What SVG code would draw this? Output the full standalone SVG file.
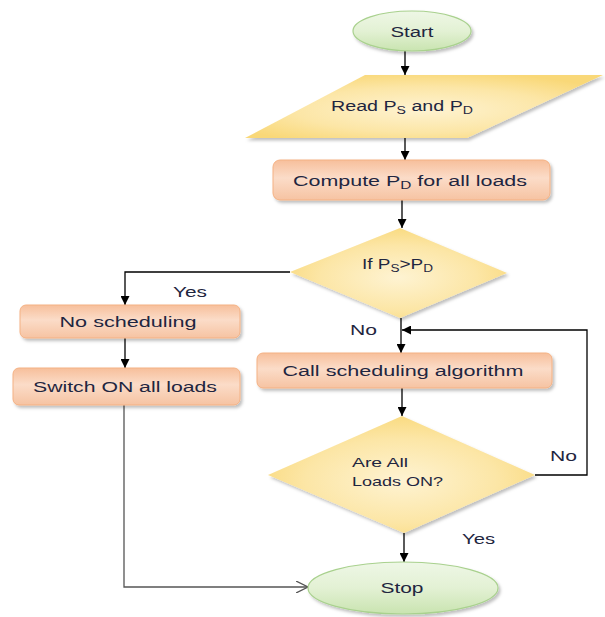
<svg xmlns="http://www.w3.org/2000/svg" width="605" height="617" viewBox="0 0 605 617">
<style>
  text { font-family: "Liberation Sans", Arial, sans-serif; font-size: 14px; fill: #1f2640; }
  .c { text-anchor: middle; }
  .sub { font-size: 10px; }
  .ln { fill: none; stroke: #000; stroke-width: 1.3; }
  .gl { fill: none; stroke: #555; stroke-width: 1.3; }
  .term { fill: url(#gGreen); stroke: #a9d18e; stroke-width: 1.2; filter: url(#sh); }
  .dec { fill: url(#gYellow); stroke: none; filter: url(#sh); }
  .proc { fill: url(#gOrange); stroke: #f4b183; stroke-width: 1; filter: url(#sh); }
</style>
<defs>
  <linearGradient id="gGreen" x1="0" y1="0" x2="0" y2="1">
    <stop offset="0" stop-color="#eef7e6"/>
    <stop offset="0.5" stop-color="#e3f1d4"/>
    <stop offset="1" stop-color="#c9e4b0"/>
  </linearGradient>
  <radialGradient id="gYellow" cx="0.5" cy="0.55" r="0.6">
    <stop offset="0" stop-color="#fef3d2"/>
    <stop offset="0.6" stop-color="#fce6a6"/>
    <stop offset="1" stop-color="#f9d878"/>
  </radialGradient>
  <linearGradient id="gOrange" x1="0" y1="0" x2="0" y2="1">
    <stop offset="0" stop-color="#f7bf9b"/>
    <stop offset="0.45" stop-color="#fbdcc8"/>
    <stop offset="1" stop-color="#f6c3a2"/>
  </linearGradient>
  <filter id="sh" x="-10%" y="-20%" width="125%" height="150%">
    <feDropShadow dx="2" dy="2.5" stdDeviation="1.5" flood-color="#000" flood-opacity="0.25"/>
  </filter>
  <marker id="ah" markerUnits="userSpaceOnUse" markerWidth="9" markerHeight="9" refX="10" refY="5" viewBox="0 0 10 10" orient="auto">
    <path d="M0,0 L10,5 L0,10 z" fill="#000"/>
  </marker>
  <marker id="ao" markerUnits="userSpaceOnUse" markerWidth="12" markerHeight="12" refX="10" refY="5" viewBox="0 0 10 10" orient="auto">
    <path d="M0,0 L10,5 L0,10" fill="none" stroke="#555" stroke-width="1.1"/>
  </marker>
</defs>

<g id="connectors">
  <path class="ln" d="M405,51 V75" marker-end="url(#ah)"/>
  <path class="ln" d="M405,138 V160" marker-end="url(#ah)"/>
  <path class="ln" d="M402,200 V228" marker-end="url(#ah)"/>
  <path class="ln" d="M290,272 H125 V305" marker-end="url(#ah)"/>
  <path class="ln" d="M125,338 V368" marker-end="url(#ah)"/>
  <path class="gl" d="M124,405 V587 H308" marker-end="url(#ao)"/>
  <path class="ln" d="M401,318 V353" marker-end="url(#ah)"/>
  <path class="ln" d="M402,388 V416" marker-end="url(#ah)"/>
  <path class="ln" d="M535,475 H587 V330 H402" marker-end="url(#ah)"/>
  <path class="ln" d="M404,533 V562" marker-end="url(#ah)"/>
</g>

<g id="start">
  <ellipse class="term" cx="412" cy="31" rx="59" ry="20"/>
  <text class="c" x="412" y="37" textLength="43" lengthAdjust="spacingAndGlyphs">Start</text>
</g>

<g id="read">
  <polygon class="dec" points="365,75 603,75 467,138 245,138"/>
  <text x="331" y="111" textLength="142" lengthAdjust="spacingAndGlyphs">Read P<tspan class="sub" dy="3">S</tspan><tspan dy="-3"> and P</tspan><tspan class="sub" dy="3">D</tspan></text>
</g>

<g id="compute">
  <rect class="proc" x="273" y="160" width="277" height="40" rx="7"/>
  <text x="293" y="186" textLength="234" lengthAdjust="spacingAndGlyphs">Compute P<tspan class="sub" dy="3">D</tspan><tspan dy="-3"> for all loads</tspan></text>
</g>

<g id="decision1">
  <polygon class="dec" points="400,228 507,273 400,318 290,272"/>
  <text x="362" y="269" textLength="71" lengthAdjust="spacingAndGlyphs">If P<tspan class="sub" dy="3">S</tspan><tspan dy="-3">&gt;P</tspan><tspan class="sub" dy="3">D</tspan></text>
</g>

<g id="noSched">
  <rect class="proc" x="20" y="305" width="220" height="33" rx="6"/>
  <text class="c" x="128" y="327" textLength="137" lengthAdjust="spacingAndGlyphs">No scheduling</text>
</g>

<g id="switchOn">
  <rect class="proc" x="13" y="368" width="227" height="37" rx="6"/>
  <text class="c" x="125" y="392" textLength="184" lengthAdjust="spacingAndGlyphs">Switch ON all loads</text>
</g>

<g id="callSched">
  <rect class="proc" x="257" y="353" width="295" height="35" rx="6"/>
  <text class="c" x="403" y="376" textLength="241" lengthAdjust="spacingAndGlyphs">Call scheduling algorithm</text>
</g>

<g id="decision2">
  <polygon class="dec" points="402,416 535,475 404,533 268,475"/>
  <text x="352" y="467" textLength="56" lengthAdjust="spacingAndGlyphs" style="font-size:13px">Are All</text>
  <text x="352" y="486" textLength="91" lengthAdjust="spacingAndGlyphs" style="font-size:13px">Loads ON?</text>
</g>

<g id="stop">
  <ellipse class="term" cx="403" cy="588" rx="95" ry="26"/>
  <text class="c" x="402" y="593" textLength="43" lengthAdjust="spacingAndGlyphs">Stop</text>
</g>

<g id="labels">
  <text x="173" y="297" textLength="34" lengthAdjust="spacingAndGlyphs">Yes</text>
  <text x="350" y="335" textLength="27" lengthAdjust="spacingAndGlyphs">No</text>
  <text x="550" y="461" textLength="27" lengthAdjust="spacingAndGlyphs">No</text>
  <text x="462" y="544" textLength="33" lengthAdjust="spacingAndGlyphs">Yes</text>
</g>
</svg>
